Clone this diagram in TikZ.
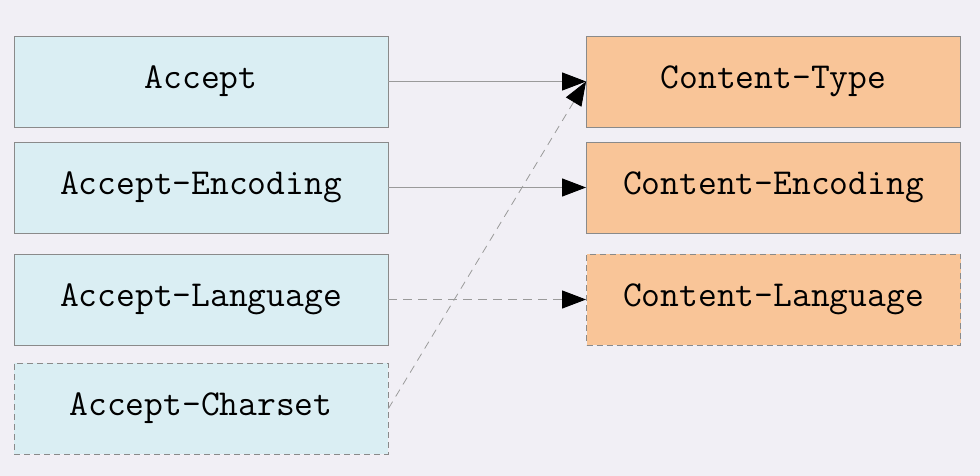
\documentclass[tikz,border=0pt]{standalone}
\usetikzlibrary{arrows.meta}
\definecolor{bg}{HTML}{F1EFF5}
\definecolor{lblue}{HTML}{DAEEF3}
\definecolor{lorange}{HTML}{F9C598}
\definecolor{edge}{HTML}{8A8A8A}
\definecolor{conn}{HTML}{9A9A9A}
\begin{document}
\begin{tikzpicture}[x=1pt,y=-1pt,
  box/.style={draw=edge,line width=0.9pt,minimum width=374pt,minimum height=91pt,inner sep=0pt,
    font=\fontsize{36.5}{42}\selectfont\ttfamily},
  reqbox/.style={box,fill=lblue},
  resbox/.style={box,fill=lorange},
  dashbox/.style={dash pattern=on 6pt off 4pt},
  conn/.style={draw=conn,line width=1.1pt,-{Triangle[length=24pt,width=18pt,fill=black,color=black]}},
  dconn/.style={conn,dash pattern=on 9pt off 6pt},
  dconn2/.style={conn,line width=0.8pt,dash pattern=on 8pt off 6pt}]
\fill[bg] (0,0) rectangle (980,476);
\useasboundingbox (0,0) rectangle (980,476);
\node[reqbox] (acc) at (201,81.5) {Accept};
\node[reqbox] (enc) at (201,187.5) {Accept-Encoding};
\node[reqbox] (lang) at (201,299.5) {Accept-Language};
\node[reqbox,dashbox] (cs) at (201,408.5) {Accept-Charset};
\node[resbox] (ctype) at (773.5,81.5) {Content-Type};
\node[resbox] (cenc) at (773.5,187.5) {Content-Encoding};
\node[resbox,dashbox] (clang) at (773.5,299.5) {Content-Language};
\draw[conn] (acc) -- (ctype);
\draw[conn] (enc) -- (cenc);
\draw[dconn] (lang) -- (clang);
\draw[dconn2] (cs.east) -- (ctype.west);
\end{tikzpicture}
\end{document}
